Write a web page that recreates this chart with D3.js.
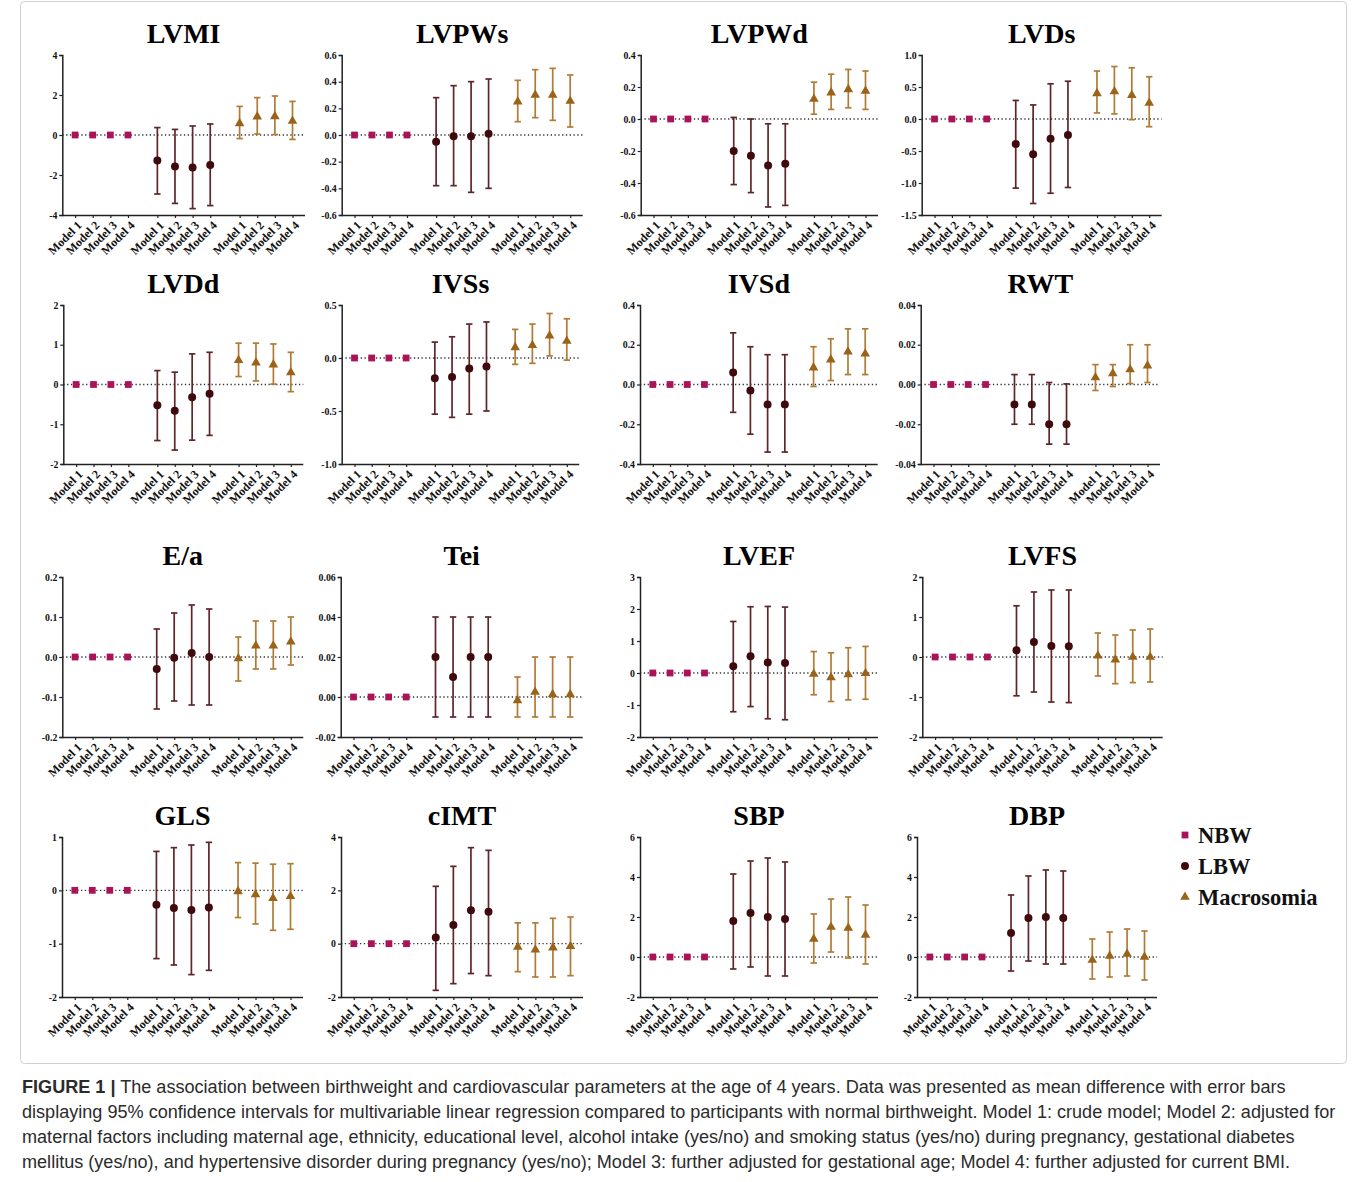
<!DOCTYPE html>
<html>
<head>
<meta charset="utf-8">
<script src="https://cdn.jsdelivr.net/npm/d3@7"></script>
<style>
  body { margin: 0; background: #fff; }
  svg text { font-family: "Liberation Serif", "Times New Roman", serif; }
  svg text.cap { font-family: "Liberation Sans", Arial, sans-serif; }
</style>
</head>
<body>
<svg id="fig" width="1357" height="1182"></svg>
<script>
// panel names, row by row
const panels = ["LVMI", "LVPWs", "LVPWd", "LVDs",
                "LVDd", "IVSs", "IVSd", "RWT",
                "E/a", "Tei", "LVEF", "LVFS",
                "GLS", "cIMT", "SBP", "DBP"];
const models = ["Model 1", "Model 2", "Model 3", "Model 4"];
const groups = ["NBW", "LBW", "Macrosomia"];

// y tick values and decimals of each panel
const yTicks = [
  [-4, -2, 0, 2, 4], [-0.6, -0.4, -0.2, 0, 0.2, 0.4, 0.6], [-0.6, -0.4, -0.2, 0, 0.2, 0.4], [-1.5, -1, -0.5, 0, 0.5, 1],
  [-2, -1, 0, 1, 2], [-1, -0.5, 0, 0.5], [-0.4, -0.2, 0, 0.2, 0.4], [-0.04, -0.02, 0, 0.02, 0.04],
  [-0.2, -0.1, 0, 0.1, 0.2], [-0.02, 0, 0.02, 0.04, 0.06], [-2, -1, 0, 1, 2, 3], [-2, -1, 0, 1, 2],
  [-2, -1, 0, 1], [-2, 0, 2, 4], [-2, 0, 2, 4, 6], [-2, 0, 2, 4, 6]
];
const tickDigits = [0, 1, 1, 1, 0, 1, 1, 2, 1, 2, 0, 0, 0, 0, 0, 0];

// reference group: all zero
const nbwMean = [0, 0, 0, 0];

// low birthweight: mean, lower and upper 95% CI
const lbwMean = [
  [-1.28, -1.58, -1.63, -1.5], [-0.05, -0.01, -0.01, 0.01], [-0.2, -0.23, -0.29, -0.28], [-0.39, -0.55, -0.31, -0.25],
  [-0.52, -0.66, -0.32, -0.23], [-0.19, -0.18, -0.1, -0.08], [0.06, -0.03, -0.1, -0.1], [-0.01, -0.01, -0.02, -0.02],
  [-0.03, -0.002, 0.01, 0], [0.02, 0.01, 0.02, 0.02], [0.21, 0.52, 0.33, 0.31], [0.17, 0.375, 0.275, 0.267],
  [-0.27, -0.33, -0.37, -0.32], [0.23, 0.7, 1.25, 1.2], [1.8, 2.2, 2.0, 1.9], [1.2, 1.95, 2.0, 1.95]
];
const lbwLow = [
  [-2.95, -3.42, -3.68, -3.53], [-0.38, -0.38, -0.43, -0.4], [-0.41, -0.46, -0.55, -0.54], [-1.08, -1.32, -1.16, -1.07],
  [-1.41, -1.65, -1.4, -1.28], [-0.53, -0.56, -0.53, -0.5], [-0.14, -0.25, -0.34, -0.34], [-0.02, -0.02, -0.03, -0.03],
  [-0.13, -0.11, -0.12, -0.12], [-0.01, -0.01, -0.01, -0.01], [-1.21, -1.05, -1.43, -1.46], [-0.97, -0.875, -1.125, -1.14],
  [-1.28, -1.4, -1.58, -1.5], [-1.75, -1.5, -1.12, -1.2], [-0.6, -0.5, -0.95, -0.95], [-0.7, -0.2, -0.35, -0.35]
];
const lbwHigh = [
  [0.37, 0.28, 0.45, 0.55], [0.28, 0.37, 0.4, 0.42], [0.01, 0.0, -0.03, -0.03], [0.29, 0.22, 0.55, 0.59],
  [0.35, 0.31, 0.77, 0.81], [0.15, 0.2, 0.32, 0.34], [0.26, 0.19, 0.15, 0.15], [0.005, 0.005, 0.001, 0.0003],
  [0.07, 0.11, 0.13, 0.12], [0.04, 0.04, 0.04, 0.04], [1.61, 2.07, 2.08, 2.06], [1.28, 1.625, 1.675, 1.675],
  [0.73, 0.8, 0.85, 0.9], [2.15, 2.9, 3.6, 3.5], [4.15, 4.8, 4.95, 4.75], [3.1, 4.05, 4.35, 4.3]
];

// macrosomia: mean, lower and upper 95% CI
const macMean = [
  [0.58, 0.92, 0.93, 0.7], [0.25, 0.3, 0.3, 0.255], [0.125, 0.165, 0.185, 0.175], [0.4, 0.43, 0.37, 0.25],
  [0.61, 0.55, 0.5, 0.3], [0.1, 0.12, 0.21, 0.16], [0.085, 0.125, 0.165, 0.155], [0.0035, 0.0055, 0.0075, 0.0095],
  [-0.004, 0.028, 0.028, 0.038], [-0.0017, 0.0025, 0.0013, 0.0013], [-0.03, -0.14, -0.05, -0.01], [0.033, -0.067, 0, 0],
  [-0.02, -0.08, -0.15, -0.11], [-0.12, -0.23, -0.15, -0.1], [0.9, 1.5, 1.45, 1.1], [-0.15, 0.05, 0.15, 0]
];
const macLow = [
  [-0.18, 0.05, 0.02, -0.22], [0.1, 0.13, 0.11, 0.06], [0.03, 0.06, 0.07, 0.06], [0.095, 0.08, -0.01, -0.12],
  [0.2, 0.09, 0.01, -0.18], [-0.06, -0.05, 0.02, -0.02], [-0.01, 0.02, 0.05, 0.05], [-0.003, -0.001, 0.0005, 0.001],
  [-0.06, -0.03, -0.03, -0.02], [-0.01, -0.01, -0.01, -0.01], [-0.68, -0.89, -0.84, -0.82], [-0.475, -0.667, -0.64, -0.625],
  [-0.51, -0.63, -0.75, -0.73], [-1.05, -1.25, -1.25, -1.2], [-0.3, 0.25, -0.05, -0.35], [-1.1, -1.0, -0.95, -1.15]
];
const macHigh = [
  [1.43, 1.87, 1.95, 1.68], [0.41, 0.49, 0.5, 0.45], [0.23, 0.28, 0.31, 0.3], [0.75, 0.82, 0.8, 0.66],
  [1.04, 1.04, 1.02, 0.81], [0.27, 0.32, 0.42, 0.37], [0.19, 0.23, 0.28, 0.28], [0.01, 0.01, 0.02, 0.02],
  [0.05, 0.09, 0.09, 0.1], [0.01, 0.02, 0.02, 0.02], [0.67, 0.63, 0.79, 0.83], [0.6, 0.55, 0.675, 0.7],
  [0.52, 0.51, 0.49, 0.5], [0.78, 0.78, 0.95, 1.0], [2.15, 2.9, 3.0, 2.6], [0.9, 1.25, 1.4, 1.3]
];

const captionLines = [
  ["FIGURE 1 |", " The association between birthweight and cardiovascular parameters at the age of 4 years. Data was presented as mean difference with error bars"],
  ["", "displaying 95% confidence intervals for multivariable linear regression compared to participants with normal birthweight. Model 1: crude model; Model 2: adjusted for"],
  ["", "maternal factors including maternal age, ethnicity, educational level, alcohol intake (yes/no) and smoking status (yes/no) during pregnancy, gestational diabetes"],
  ["", "mellitus (yes/no), and hypertensive disorder during pregnancy (yes/no); Model 3: further adjusted for gestational age; Model 4: further adjusted for current BMI."]
];

// layout
const rowTop = [55, 305, 577, 837], rowBottom = [215, 464, 737, 997];
const axisLeft = [[62.3, 341.7, 640.7, 921.7], [63.3, 341.7, 640, 920.7], [62.3, 340.7, 640, 922.3], [62, 341, 640, 917]];
const axisRight = [[305, 582.7, 878, 1161.7], [303.3, 579.3, 877.7, 1160], [303.3, 582.7, 878, 1162.7], [303, 583, 878, 1157]];
const groupGap = 4.667;
const colors = { NBW: "#ab1358", LBW: "#3e0a0d", Macrosomia: "#9a6319" };
const barColors = { LBW: "#5f2629", Macrosomia: "#b07b36" };
const shapes = { NBW: d3.symbolSquare, LBW: d3.symbolCircle, Macrosomia: d3.symbolTriangle };
const sizes = { NBW: 46, LBW: 50, Macrosomia: 40 };

var svg = d3.select("#fig");

svg.append("rect")
  .attr("x", 20.5).attr("y", 1.5).attr("width", 1326).attr("height", 1062).attr("rx", 4)
  .attr("fill", "none").attr("stroke", "#cfcfcf");

panels.forEach(function (name, p) {
  const row = Math.floor(p / 4), col = p % 4;
  const left = axisLeft[row][col], right = axisRight[row][col];
  const top = rowTop[row], bottom = rowBottom[row];
  const ticks = yTicks[p];

  const x = d3.scaleLinear().domain([0, 2 * groupGap + 3]).range([left + 12.8, right - 12.5]);
  const y = d3.scaleLinear().domain([ticks[0], ticks[ticks.length - 1]]).range([bottom, top]);

  const g = svg.append("g");

  g.append("text")
    .attr("x", (left + right) / 2).attr("y", top - 12)
    .attr("text-anchor", "middle")
    .attr("font-size", 28).attr("font-weight", "bold")
    .text(name);

  // zero line
  g.append("line")
    .attr("x1", left).attr("x2", right)
    .attr("y1", y(0)).attr("y2", y(0))
    .attr("stroke", "#333").attr("stroke-width", 1.3)
    .attr("stroke-dasharray", "1.3,2.5");

  const yAxis = g.append("g")
    .attr("transform", `translate(${left},0)`)
    .call(d3.axisLeft(y).tickValues(ticks).tickSize(3).tickPadding(2)
      .tickFormat(d => d.toFixed(tickDigits[p])));

  const positions = [];
  groups.forEach((gr, gi) => models.forEach((m, mi) => positions.push(gi * groupGap + mi)));
  const xAxis = g.append("g")
    .attr("transform", `translate(0,${bottom})`)
    .call(d3.axisBottom(x).tickValues(positions).tickSize(3)
      .tickFormat((d, i) => models[i % 4]));
  xAxis.select(".domain").attr("d", `M${left},0.5H${right}`);
  xAxis.selectAll("text")
    .attr("x", 0).attr("y", 0).attr("dy", "0.35em")
    .attr("text-anchor", "end")
    .attr("transform", "translate(4,8) rotate(-45)");

  [yAxis, xAxis].forEach(a => {
    a.select(".domain").attr("stroke", "#222").attr("stroke-width", 1.5);
    a.selectAll(".tick line").attr("stroke", "#222").attr("stroke-width", 1.2);
    a.selectAll("text").attr("font-size", a === yAxis ? 9.8 : 12)
      .attr("font-weight", "bold").attr("fill", "#111");
  });

  const series = [
    { grp: "NBW", mean: nbwMean, low: null, high: null },
    { grp: "LBW", mean: lbwMean[p], low: lbwLow[p], high: lbwHigh[p] },
    { grp: "Macrosomia", mean: macMean[p], low: macLow[p], high: macHigh[p] }
  ];

  series.forEach(function (s, gi) {
    const pts = s.mean.map((v, i) => ({
      x: x(gi * groupGap + i), m: v,
      lo: s.low ? s.low[i] : v, hi: s.high ? s.high[i] : v
    }));
    if (s.low) {
      const eb = g.append("g").attr("stroke", barColors[s.grp]).attr("stroke-width", 1.7);
      eb.selectAll("line.v").data(pts).join("line")
        .attr("x1", d => d.x).attr("x2", d => d.x)
        .attr("y1", d => y(d.lo)).attr("y2", d => y(d.hi));
      eb.selectAll("line.lo").data(pts).join("line")
        .attr("x1", d => d.x - 3.2).attr("x2", d => d.x + 3.2)
        .attr("y1", d => y(d.lo)).attr("y2", d => y(d.lo));
      eb.selectAll("line.hi").data(pts).join("line")
        .attr("x1", d => d.x - 3.2).attr("x2", d => d.x + 3.2)
        .attr("y1", d => y(d.hi)).attr("y2", d => y(d.hi));
    }
    g.selectAll(null).data(pts).join("path")
      .attr("transform", d => `translate(${d.x},${y(d.m)})`)
      .attr("d", d3.symbol().type(shapes[s.grp]).size(sizes[s.grp]))
      .attr("fill", colors[s.grp]);
  });
});

// legend
const legend = svg.append("g");
groups.forEach(function (gr, i) {
  const ly = 835 + i * 31;
  legend.append("path")
    .attr("transform", `translate(1185,${ly})`)
    .attr("d", d3.symbol().type(shapes[gr]).size(sizes[gr]))
    .attr("fill", colors[gr]);
  legend.append("text")
    .attr("x", 1198).attr("y", ly + 8)
    .attr("font-size", 22.5).attr("font-weight", "bold")
    .attr("fill", "#111")
    .text(gr);
});

// caption
const cap = svg.append("g");
captionLines.forEach(function (ln, i) {
  const t = cap.append("text").attr("class", "cap")
    .attr("x", 22).attr("y", 1093 + i * 25)
    .attr("font-size", 16).attr("fill", "#2b2b2b");
  if (ln[0]) t.append("tspan").attr("font-weight", "bold").text(ln[0]);
  t.append("tspan").text(ln[1]);
});
// fit the longest line to the width seen in the figure
const w2 = cap.selectAll("text").nodes()[1].getComputedTextLength();
cap.selectAll("text").attr("font-size", 16 * (1314 / w2));
</script>
</body>
</html>
